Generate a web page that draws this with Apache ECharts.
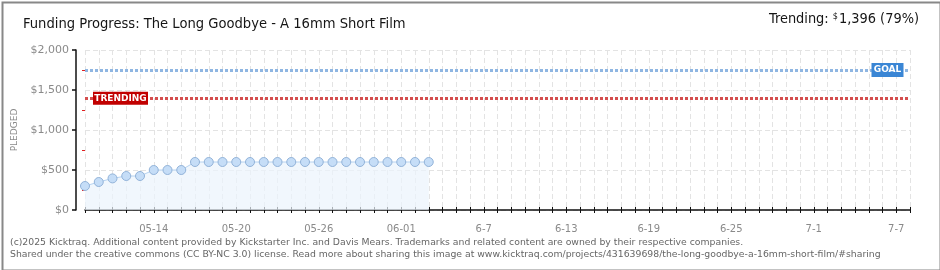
<!DOCTYPE html>
<html>
<head>
<meta charset="utf-8">
<script src="https://cdn.jsdelivr.net/npm/echarts@6/dist/echarts.min.js"></script>
<style>
  html, body { margin: 0; padding: 0; background: #fff; }
  #chart { width: 940px; height: 270px; }
</style>
</head>
<body>
<div id="chart"></div>
<script>
// days shown on the axis: 05-09 .. 07-08
const startDay = new Date(2025, 4, 9)
const dayCount = 61
const days = []
for (let i = 0; i < dayCount; i++) {
  const d = new Date(startDay.getTime() + i * 86400000)
  days.push(String(d.getMonth() + 1).padStart(2, '0') + '-' + String(d.getDate()).padStart(2, '0'))
}

const labelDays = ['05-14', '05-20', '05-26', '06-01', '06-07', '06-13', '06-19', '06-25', '07-01', '07-07']
const tickLabels = ['05-14', '05-20', '05-26', '06-01', '6-7', '6-13', '6-19', '6-25', '7-1', '7-7']

const pledged = [300, 350, 395, 425, 425, 500, 500, 500,
  600, 600, 600, 600, 600, 600, 600, 600, 600,
  600, 600, 600, 600, 600, 600, 600, 600, 600]

const goal = 1750
const trending = 1396
const trendingPct = 79
const yTicks = [0, 500, 1000, 1500, 2000]
const yMinorTicks = [250, 750, 1250, 1750]

const GRID_COLOR = '#e3e3e3'
const LABEL_COLOR = '#8a8a8a'

const chart = echarts.init(document.getElementById('chart'))

const fmtMoney = (v) => '$' + v.toLocaleString('en-US')

chart.setOption({
  backgroundColor: '#fff',
  animation: false,
  grid: { left: 85, right: 30, top: 50, bottom: 60 },
  title: [{
    text: 'Funding Progress: The Long Goodbye - A 16mm Short Film',
    left: 18, top: 12,
    textStyle: { fontFamily: 'DejaVu Sans Condensed', fontWeight: 'normal', fontSize: 14.6, color: '#151515' }
  }],
  graphic: [
    {
      type: 'text', right: 21, top: 12,
      style: {
        text: '{a|Trending: }{s|$}{a|' + trending.toLocaleString('en-US') + ' (' + trendingPct + '%)}',
        rich: {
          a: { fontFamily: 'DejaVu Sans Condensed', fontSize: 14.4, fill: '#151515' },
          s: { fontFamily: 'DejaVu Sans Condensed', fontSize: 9, fill: '#151515', verticalAlign: 'top', padding: [0, 1, 6, 0] }
        }
      }
    },
    {
      type: 'text', left: 10, top: 237,
      style: {
        text: '(c)2025 Kicktraq. Additional content provided by Kickstarter Inc. and Davis Mears. Trademarks and related content are owned by their respective companies.\nShared under the creative commons (CC BY-NC 3.0) license. Read more about sharing this image at www.kicktraq.com/projects/431639698/the-long-goodbye-a-16mm-short-film/#sharing',
        fontFamily: 'DejaVu Sans', fontSize: 9.3, fill: '#666', lineHeight: 12
      }
    },
    {
      type: 'rect', left: 0, top: 0, z: 100,
      shape: { x: 1, y: 1, width: 938, height: 268 },
      style: { fill: 'none', stroke: '#888', lineWidth: 2 }
    }
  ],
  xAxis: [
    {
      type: 'category',
      data: days,
      boundaryGap: false,
      offset: 10,
      axisLine: { lineStyle: { color: '#111', width: 1.5 } },
      axisTick: { interval: 0, length: 3, lineStyle: { color: '#111', width: 1 } },
      axisLabel: {
        interval: (i, v) => labelDays.includes(v),
        formatter: (v) => tickLabels[labelDays.indexOf(v)],
        color: LABEL_COLOR, fontFamily: 'DejaVu Sans', fontSize: 10, margin: 4
      },
      splitLine: { show: true, interval: 0, lineStyle: { color: GRID_COLOR, type: [5, 3] } }
    },
    {
      type: 'category',
      data: days,
      boundaryGap: false,
      position: 'bottom',
      offset: 10,
      axisLine: { show: false },
      axisTick: { inside: true, interval: 0, length: 3, lineStyle: { color: '#111', width: 1 } },
      axisLabel: { show: false },
      splitLine: { show: false }
    }
  ],
  yAxis: [
    {
      type: 'value',
      min: 0, max: 2000, interval: 500,
      offset: 9,
      name: 'PLEDGED',
      nameLocation: 'middle',
      nameRotate: 90,
      nameGap: 49,
      nameTextStyle: { color: LABEL_COLOR, fontFamily: 'DejaVu Sans', fontSize: 9 },
      axisLine: { show: true, lineStyle: { color: '#111', width: 1.5 } },
      axisTick: { show: true, length: 4, lineStyle: { color: '#111', width: 1.5 } },
      axisLabel: {
        customValues: yTicks,
        formatter: fmtMoney,
        color: LABEL_COLOR, fontFamily: 'DejaVu Sans', fontSize: 11, margin: 7
      },
      splitLine: { show: true, lineStyle: { color: GRID_COLOR, type: [5, 3] } }
    },
    {
      type: 'value',
      min: 0, max: 2000, interval: 250,
      position: 'left',
      offset: 0,
      axisLine: { show: false },
      axisTick: { show: true, customValues: yMinorTicks, length: 3, lineStyle: { color: '#e02020', width: 1 } },
      axisLabel: { show: false },
      splitLine: { show: false }
    }
  ],
  series: [{
    name: 'Pledged',
    type: 'line',
    data: pledged,
    symbol: 'circle',
    symbolSize: 9,
    lineStyle: { color: '#b6d3f1', width: 1 },
    itemStyle: { color: '#c5ddf7', borderColor: '#92b3d9', borderWidth: 1 },
    areaStyle: { color: '#ebf3fc' },
    z: 3,
    markLine: {
      silent: true,
      symbol: 'none',
      label: { show: false },
      data: [
        { yAxis: goal, lineStyle: { color: '#8fb6e2', width: 3, type: [3, 2] } },
        { yAxis: trending, lineStyle: { color: '#d44e4e', width: 3, type: [3, 2] } }
      ]
    },
    markPoint: {
      silent: true,
      data: [
        {
          coord: [58, goal],
          symbol: 'rect', symbolSize: [32, 14], symbolOffset: [5, 0],
          itemStyle: { color: '#3a86d5' },
          label: { show: true, formatter: 'GOAL', color: '#fff', fontFamily: 'DejaVu Sans', fontWeight: 'bold', fontSize: 9 }
        },
        {
          coord: [2, trending],
          symbol: 'rect', symbolSize: [55, 13], symbolOffset: [8, 0],
          itemStyle: { color: '#c10000' },
          label: { show: true, formatter: 'TRENDING', color: '#fff', fontFamily: 'DejaVu Sans', fontWeight: 'bold', fontSize: 9 }
        }
      ]
    }
  }]
})
</script>
</body>
</html>
